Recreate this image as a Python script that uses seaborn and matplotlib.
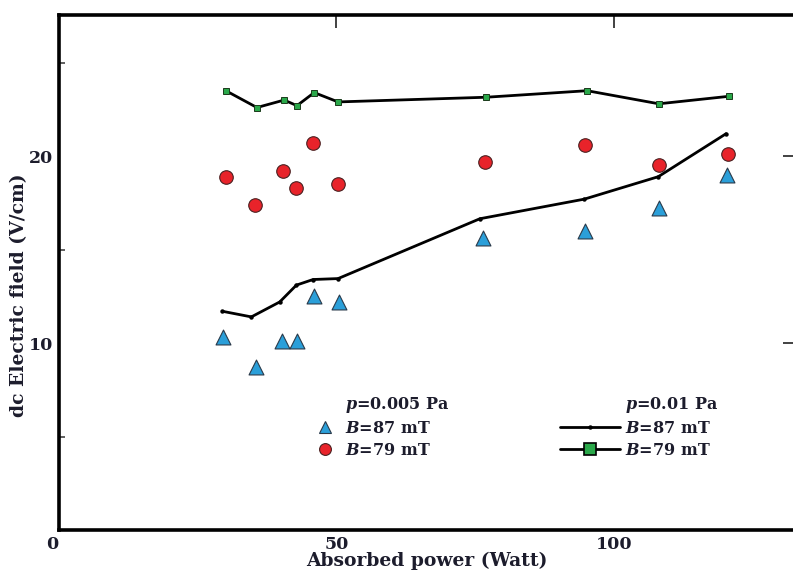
"""dc electric field vs absorbed power, two pressures and two magnetic fields."""

import numpy as np
import pandas as pd
import seaborn as sns
import matplotlib.pyplot as plt
from matplotlib.lines import Line2D
from matplotlib.ticker import MultipleLocator

# p = 0.005 Pa, scatter points
tri_x = [29.6, 35.5, 40.2, 42.9, 45.9, 50.4, 76.3, 94.7, 108.0, 120.2]
tri_y = [10.3, 8.7, 10.1, 10.1, 12.5, 12.2, 15.6, 16.0, 17.2, 19.0]  # B=87 mT
circ_x = [30.1, 35.4, 40.3, 42.8, 45.8, 50.3, 76.8, 94.7, 108.1, 120.5]
circ_y = [18.9, 17.4, 19.2, 18.3, 20.7, 18.5, 19.7, 20.6, 19.5, 20.1]  # B=79 mT

# p = 0.01 Pa, lines
dot_x = [29.5, 34.7, 39.8, 42.8, 45.8, 50.3, 75.8, 94.6, 107.9, 120.1]
dot_y = [11.7, 11.4, 12.2, 13.1, 13.4, 13.45, 16.65, 17.7, 18.9, 21.2]  # B=87 mT
sq_x = [30.1, 35.7, 40.6, 42.9, 46.0, 50.3, 76.9, 95.1, 108.0, 120.6]
sq_y = [23.5, 22.6, 23.0, 22.7, 23.4, 22.9, 23.15, 23.5, 22.8, 23.2]  # B=79 mT

INK = "#1c1c2c"
BLUE = "#2b9fd9"
RED = "#e8232a"
GREEN = "#2aa84a"

sns.set_style("white")
plt.rcParams["font.family"] = ["DejaVu Serif"]
plt.rcParams["font.weight"] = "bold"
plt.rcParams["mathtext.fontset"] = "custom"
plt.rcParams["mathtext.it"] = "DejaVu Serif:italic:bold"
plt.rcParams["mathtext.rm"] = "DejaVu Serif:bold"

fig = plt.figure(figsize=(7.93, 5.73), dpi=100)
ax = fig.add_axes([58.5 / 793, 43 / 573, 736.5 / 793, 515 / 573])

tri = pd.DataFrame({"x": tri_x, "y": tri_y})
circ = pd.DataFrame({"x": circ_x, "y": circ_y})
dots = pd.DataFrame({"x": dot_x, "y": dot_y})
sqs = pd.DataFrame({"x": sq_x, "y": sq_y})

sns.lineplot(data=dots, x="x", y="y", sort=False, color="black", lw=2.0,
             marker="o", markersize=3.2, markeredgewidth=0, ax=ax, zorder=2)
sns.lineplot(data=sqs, x="x", y="y", sort=False, color="black", lw=2.0,
             marker="s", markersize=5, markerfacecolor=GREEN,
             markeredgecolor="#1a3a1a", markeredgewidth=0.7, ax=ax, zorder=2)
sns.scatterplot(data=tri, x="x", y="y", marker="^", s=115, color=BLUE,
                edgecolor="#2a3a4a", linewidth=0.8, ax=ax, zorder=3)
sns.scatterplot(data=circ, x="x", y="y", marker="o", s=95, color=RED,
                edgecolor="#4a2020", linewidth=0.8, ax=ax, zorder=3)

ax.set_xlim(0, 132.5)
ax.set_ylim(0, 27.55)
ax.set_xticks([0, 50, 100])
ax.set_yticks([10, 20])
ax.yaxis.set_minor_locator(MultipleLocator(5))
ax.tick_params(axis="both", which="major", direction="in", length=9, width=1.3,
               top=True, right=True, labelsize=12.5, labelcolor=INK, color="#333333", pad=4)
ax.tick_params(axis="y", which="minor", direction="in", length=4, width=1.1,
               left=True, right=False, color="#333333")
for lab in ax.get_xticklabels() + ax.get_yticklabels():
    lab.set_fontweight("bold")
ax.get_xticklabels()[0].set_horizontalalignment("right")

for side in ["top", "left", "bottom"]:
    ax.spines[side].set_linewidth(2.6)
    ax.spines[side].set_color("black")
ax.spines["right"].set_visible(False)

ax.set_xlabel("Absorbed power (Watt)", fontsize=13.5, fontweight="bold", color=INK)
ax.set_ylabel("dc Electric field (V/cm)", fontsize=13.5, fontweight="bold", color=INK)
ax.xaxis.set_label_coords(0.5, -0.043)
ax.yaxis.set_label_coords(-0.041, 0.456)

blank = Line2D([], [], linestyle="none")
left_handles = [
    blank,
    Line2D([], [], linestyle="none", marker="^", markersize=8.5, markerfacecolor=BLUE,
           markeredgecolor="#2a3a4a", markeredgewidth=0.8),
    Line2D([], [], linestyle="none", marker="o", markersize=8.5, markerfacecolor=RED,
           markeredgecolor="#4a2020", markeredgewidth=0.8),
]
left_labels = ["$p$=0.005 Pa", "$B$=87 mT", "$B$=79 mT"]
leg1 = ax.legend(left_handles, left_labels, loc="upper left", bbox_to_anchor=(0.332, 0.29),
                 frameon=False, handlelength=1.0, handletextpad=0.75, labelspacing=0.3,
                 prop={"size": 11.5, "weight": "bold"}, labelcolor=INK)
ax.add_artist(leg1)

right_handles = [
    blank,
    Line2D([], [], color="black", lw=2.0, marker="o", markersize=3.2, markeredgewidth=0),
    Line2D([], [], color="black", lw=2.0, marker="s", markersize=8, markerfacecolor=GREEN,
           markeredgecolor="black", markeredgewidth=1.2),
]
right_labels = ["$p$=0.01 Pa", "$B$=87 mT", "$B$=79 mT"]
ax.legend(right_handles, right_labels, loc="upper left", bbox_to_anchor=(0.662, 0.29),
          frameon=False, handlelength=3.75, handletextpad=0.3, labelspacing=0.3,
          prop={"size": 11.5, "weight": "bold"}, labelcolor=INK)

fig.savefig("out.png", dpi=100)
